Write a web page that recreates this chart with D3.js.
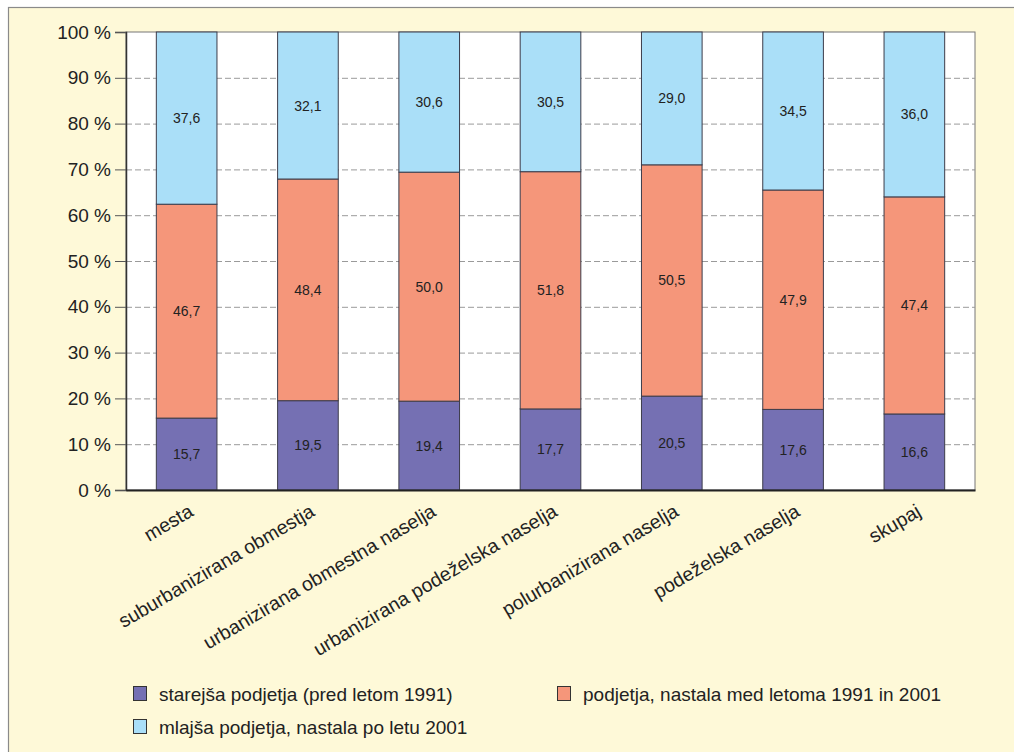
<!DOCTYPE html>
<html><head><meta charset="utf-8">
<script src="https://d3js.org/d3.v7.min.js"></script>
<style>body{margin:0;background:#fff;}svg{display:block;font-family:"Liberation Sans",Arial,sans-serif;}</style>
</head><body>
<svg id="c" width="1014" height="752"></svg>
<script>
const categories = ["mesta","suburbanizirana obmestja","urbanizirana obmestna naselja","urbanizirana podeželska naselja","polurbanizirana naselja","podeželska naselja","skupaj"];
const older = [15.7,19.5,19.4,17.7,20.5,17.6,16.6];
const middle = [46.7,48.4,50.0,51.8,50.5,47.9,47.4];
const younger = [37.6,32.1,30.6,30.5,29.0,34.5,36.0];
const seriesNames = ["starejša podjetja (pred letom 1991)","podjetja, nastala med letoma 1991 in 2001","mlajša podjetja, nastala po letu 2001"];
const colors = ["#7570b3","#f5967a","#aadff8"];
const yTicks = [0,10,20,30,40,50,60,70,80,90,100];

const svg = d3.select("#c");
svg.append("rect").attr("x",8.5).attr("y",7.5).attr("width",1020).attr("height",760)
  .attr("fill","#fef9d8").attr("stroke","#8a8a8a").attr("stroke-width",1.2);

const m = {l:126,r:975,t:32,b:490};
const x = d3.scaleBand().domain(categories).range([m.l,m.r]).paddingInner(0.5).paddingOuter(0.25);
const y = d3.scaleLinear().domain([0,100]).range([m.b,m.t]);

svg.append("rect").attr("x",m.l).attr("y",m.t).attr("width",m.r-m.l).attr("height",m.b-m.t)
  .attr("fill","#fff").attr("stroke","#777").attr("stroke-width",1);

// grid
svg.append("g").selectAll("line").data(yTicks.filter(d=>d>0&&d<100)).join("line")
  .attr("x1",m.l).attr("x2",m.r).attr("y1",d=>y(d)+0.5).attr("y2",d=>y(d)+0.5)
  .attr("stroke","#9a9a9a").attr("stroke-dasharray","6,3").attr("stroke-width",1);

const rows = categories.map((c,i)=>({cat:c,s0:older[i],s1:middle[i],s2:younger[i]}));
const stack = d3.stack().keys(["s0","s1","s2"])(rows);

const g = svg.append("g");
stack.forEach((layer,k)=>{
  g.append("g").selectAll("rect").data(layer).join("rect")
    .attr("x",d=>x(d.data.cat)).attr("width",x.bandwidth())
    .attr("y",d=>y(d[1])).attr("height",d=>y(d[0])-y(d[1]))
    .attr("fill",colors[k]).attr("stroke","#3c3c4a").attr("stroke-width",1);
});
stack.forEach((layer,k)=>{
  g.append("g").selectAll("text").data(layer).join("text")
    .attr("x",d=>x(d.data.cat)+x.bandwidth()/2).attr("y",d=>(y(d[0])+y(d[1]))/2)
    .attr("text-anchor","middle").attr("dominant-baseline","central")
    .attr("font-size",14).attr("fill","#222")
    .text(d=>d3.format(".1f")(d[1]-d[0]).replace(".",","));
});

// y axis
const ya = d3.axisLeft(y).tickValues(yTicks).tickSize(11).tickPadding(4).tickFormat(d=>d+" %");
const yg = svg.append("g").attr("transform",`translate(${m.l},0)`).call(ya);
yg.select(".domain").attr("stroke","#333").attr("stroke-width",1.5);
yg.selectAll(".tick line").attr("stroke","#555");
yg.selectAll("text").attr("font-size",19).attr("fill","#222").attr("font-family","Liberation Sans, Arial, sans-serif");

// x axis
const xa = d3.axisBottom(x).tickSize(0).tickPadding(0);
const xg = svg.append("g").attr("transform",`translate(0,${m.b})`).call(xa);
xg.select(".domain").attr("stroke","#222").attr("stroke-width",2);
xg.selectAll("text").attr("font-size",19.5).attr("fill","#222").attr("font-family","Liberation Sans, Arial, sans-serif")
  .attr("text-anchor","end").attr("dy",null).attr("y",0)
  .attr("transform","translate(8,25) rotate(-30.5)");

// legend
const leg = [{i:0,x:133,y:694},{i:1,x:557,y:694},{i:2,x:133,y:727}];
leg.forEach(l=>{
  svg.append("rect").attr("x",l.x+0.5).attr("y",l.y-7.5).attr("width",13).attr("height",14)
    .attr("fill",colors[l.i]).attr("stroke","#333").attr("stroke-width",1);
  svg.append("text").attr("x",l.x+26).attr("y",l.y).attr("dominant-baseline","central")
    .attr("font-size",19).attr("fill","#222").text(seriesNames[l.i]);
});
</script>
</body></html>
